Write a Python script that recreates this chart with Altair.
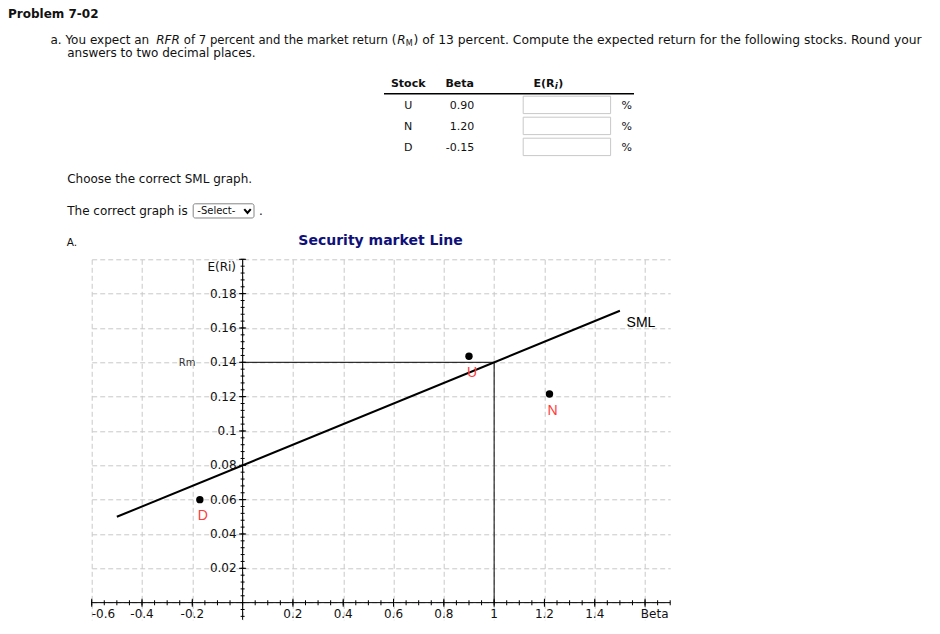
import altair as alt
import pandas as pd

# ------------------------------------------------------------------ data
problem_title = "Problem 7-02"
stocks = ["U", "N", "D"]
betas = [0.90, 1.20, -0.15]

# graph A
point_beta = [0.90, 1.22, -0.17]
point_ret = [0.1435, 0.1215, 0.060]
sml_beta = [-0.5, 1.5]
sml_ret = [0.05, 0.17]
rm_beta = 1.0
rm_ret = 0.14

grid_x = [-0.6, -0.4, -0.2, 0.0, 0.2, 0.4, 0.6, 0.8, 1.0, 1.2, 1.4, 1.6]
grid_y = [0.0, 0.02, 0.04, 0.06, 0.08, 0.10, 0.12, 0.14, 0.16, 0.18, 0.20]
x_label_vals = [-0.6, -0.4, -0.2, 0.2, 0.4, 0.6, 0.8, 1.0, 1.2, 1.4]
x_label_text = ["-0.6", "-0.4", "-0.2", "0.2", "0.4", "0.6", "0.8", "1", "1.2", "1.4"]
y_label_vals = [0.02, 0.04, 0.06, 0.08, 0.10, 0.12, 0.14, 0.16, 0.18]
y_label_text = ["0.02", "0.04", "0.06", "0.08", "0.1", "0.12", "0.14", "0.16", "0.18"]
x_major_ticks = [v for v in grid_x if v != 0.0]
y_major_ticks = [0.02, 0.04, 0.06, 0.08, 0.10, 0.12, 0.14, 0.16, 0.18, 0.20]
x_minor_ticks = [round(-0.6 + 0.05 * k, 2) for k in range(47)]
y_minor_ticks = [round(-0.008 + 0.004 * k, 3) for k in range(53)]

# ------------------------------------------------------------------ layout
OX, OY = 91.7, 259.3          # page position of the plot's top-left corner
W, H = 578.5, 360.5           # plot area
PAGE_W, PAGE_H = 924, 618
one = pd.DataFrame({"a": [0]})
TXT = "#111111"
layers = []


def txt(s, X, Y, size=12, bold=False, italic=False, align="left",
        color=TXT, font="DejaVu Sans", baseline="alphabetic"):
    return alt.Chart(one).mark_text(
        text=s, align=align, baseline=baseline, fontSize=size,
        fontWeight="bold" if bold else "normal",
        fontStyle="italic" if italic else "normal",
        color=color, font=font,
    ).encode(x=alt.value(X - OX), y=alt.value(Y - OY))


def box(X1, X2, Y1, Y2, stroke="#c8c8c8", radius=0, width=1):
    return alt.Chart(one).mark_rect(
        fill="white", stroke=stroke, strokeWidth=width, cornerRadius=radius
    ).encode(x=alt.value(X1 - OX), x2=alt.value(X2 - OX),
             y=alt.value(Y1 - OY), y2=alt.value(Y2 - OY))


# ---------------- page text
layers.append(txt(problem_title, 8, 17.6, bold=True))
L1 = 44.5
layers.append(txt("a. You expect an", 50.4, L1))
layers.append(txt("RFR", 156.2, L1, italic=True))
layers.append(txt("of 7 percent and the market return (", 183.8, L1, size=11.69))
layers.append(txt("R", 397.2, L1, italic=True))
layers.append(txt("M", 405.8, L1 + 2, size=8))
layers.append(txt(") of 13 percent. Compute the expected return for the following stocks. Round your",
                  413.6, L1, size=12.33))
layers.append(txt("answers to two decimal places.", 67.2, 57.5))

# ---------------- table
HB = 86.7
layers.append(txt("Stock", 408.2, HB, size=11, bold=True, align="center"))
layers.append(txt("Beta", 474.0, HB, size=11, bold=True, align="right"))
layers.append(txt("E(R", 533.5, HB, size=11, bold=True))
layers.append(txt("i", 554.8, HB + 2, size=9, bold=True, italic=True))
layers.append(txt(")", 558.3, HB, size=11, bold=True))
layers.append(alt.Chart(one).mark_rule(color="black", strokeWidth=1.5).encode(
    x=alt.value(384 - OX), x2=alt.value(634 - OX), y=alt.value(93.7 - OY)))
for i, (s, b) in enumerate(zip(stocks, betas)):
    base = 109.0 + 21.0 * i
    layers.append(txt(s, 408.2, base, size=11, align="center"))
    layers.append(txt(f"{b:.2f}", 474.3, base, size=11, align="right"))
    layers.append(box(523.2, 610.6, 96.2 + 21.0 * i, 113.6 + 21.0 * i))
    layers.append(txt("%", 621.6, base, size=11))

layers.append(txt("Choose the correct SML graph.", 67.2, 183.3))
layers.append(txt("The correct graph is", 67.2, 215.0))
layers.append(box(193.2, 254.0, 203.8, 218.0, stroke="#858585", radius=2))
layers.append(txt("-Select-", 197.3, 214.3, size=10))
layers.append(alt.Chart(one).mark_point(
    shape="M-1,-0.6L0,0.6L1,-0.6", filled=False, size=42, strokeWidth=2,
    color="black", opacity=1).encode(x=alt.value(247.5 - OX), y=alt.value(211.0 - OY)))
layers.append(txt(".", 259.0, 215.0))
layers.append(txt("A.", 66.8, 246.5, size=10.5))
layers.append(txt("Security market Line", 380.5, 245.0, size=14, bold=True,
                  align="center", color="#10107a"))

# ---------------- graph
xs = alt.Scale(domain=[-0.6, 1.7], nice=False, zero=False)
ys = alt.Scale(domain=[-0.01, 0.2], nice=False, zero=False)
gx = alt.Axis(values=grid_x, grid=True, gridDash=[5, 3], gridColor="#c8c8c8",
              domain=False, ticks=False, labels=False, title=None)
gy = alt.Axis(values=grid_y, grid=True, gridDash=[5, 3], gridColor="#c8c8c8",
              domain=False, ticks=False, labels=False, title=None)


def X(f):
    return alt.X(f, type="quantitative", scale=xs, axis=gx)


def Y(f):
    return alt.Y(f, type="quantitative", scale=ys, axis=gy)


df_sml = pd.DataFrame({"beta": sml_beta, "ret": sml_ret})
df_rm = pd.DataFrame({"b1": [0.0, rm_beta], "b2": [rm_beta, rm_beta],
                      "r1": [rm_ret, rm_ret], "r2": [rm_ret, 0.0]})
df_axes = pd.DataFrame({"b1": [-0.6, 0.0], "b2": [1.7, 0.0],
                        "r1": [0.0, -0.01], "r2": [0.0, 0.2]})
df_pts = pd.DataFrame({"stock": stocks, "beta": point_beta, "ret": point_ret})

# Rm guide lines
layers.append(alt.Chart(df_rm).mark_rule(color="black", strokeWidth=1).encode(
    x=X("b1"), x2="b2", y=Y("r1"), y2="r2"))
# axes lines
layers.append(alt.Chart(df_axes).mark_rule(color="black", strokeWidth=1).encode(
    x=X("b1"), x2="b2", y=Y("r1"), y2="r2"))
# ticks
layers.append(alt.Chart(pd.DataFrame({"v": x_minor_ticks, "z": 0.0})).mark_tick(
    orient="vertical", size=5, thickness=1, color="black", opacity=1).encode(x=X("v"), y=Y("z")))
layers.append(alt.Chart(pd.DataFrame({"v": x_major_ticks, "z": 0.0})).mark_tick(
    orient="vertical", size=8, thickness=1, color="black", opacity=1).encode(x=X("v"), y=Y("z")))
layers.append(alt.Chart(pd.DataFrame({"v": y_minor_ticks, "z": 0.0})).mark_tick(
    orient="horizontal", size=4, thickness=1, color="black", opacity=1).encode(y=Y("v"), x=X("z")))
layers.append(alt.Chart(pd.DataFrame({"v": y_major_ticks, "z": 0.0})).mark_tick(
    orient="horizontal", size=7, thickness=1, color="black", opacity=1).encode(y=Y("v"), x=X("z")))
# tick labels
df_xl = pd.DataFrame({"v": x_label_vals, "lab": x_label_text, "z": 0.0})
layers.append(alt.Chart(df_xl.iloc[:1]).mark_text(
    align="left", baseline="middle", dy=11, fontSize=12, font="DejaVu Sans", color=TXT
).encode(x=X("v"), y=Y("z"), text="lab"))
layers.append(alt.Chart(df_xl.iloc[1:]).mark_text(
    align="center", baseline="middle", dy=11, fontSize=12, font="DejaVu Sans", color=TXT
).encode(x=X("v"), y=Y("z"), text="lab"))
df_yl = pd.DataFrame({"v": y_label_vals, "lab": y_label_text, "z": 0.0})
layers.append(alt.Chart(df_yl).mark_text(
    align="right", baseline="middle", dx=-6, fontSize=12, font="DejaVu Sans", color=TXT
).encode(x=X("z"), y=Y("v"), text="lab"))
# axis titles
layers.append(txt("E(Ri)", 236.0, 266.7, align="right", baseline="middle"))
layers.append(txt("Beta", 668.5, 613.5, align="right", baseline="middle"))
layers.append(txt("Rm", 195.5, 362.5, size=10, align="right", baseline="middle", color="#333333"))

# SML
layers.append(alt.Chart(df_sml).mark_line(color="black", strokeWidth=2).encode(
    x=X("beta"), y=Y("ret")))
layers.append(alt.Chart(df_sml.iloc[1:]).mark_text(
    text="SML", align="left", baseline="alphabetic", dx=6.7, dy=16.5, fontSize=14,
    font="Liberation Sans", color="black").encode(x=X("beta"), y=Y("ret")))
# stocks
layers.append(alt.Chart(df_pts).mark_circle(size=55, color="black", opacity=1).encode(
    x=X("beta"), y=Y("ret")))
layers.append(alt.Chart(df_pts).mark_text(
    align="center", baseline="middle", dx=3, dy=16.5, fontSize=14,
    font="Liberation Sans", color="#ff3b3b").encode(x=X("beta"), y=Y("ret"), text="stock"))

chart = alt.layer(*layers).properties(
    width=W, height=H,
    autosize=alt.AutoSizeParams(type="none"),
    padding={"left": OX - 8, "top": OY - 8,
             "right": PAGE_W - (OX - 8) - W, "bottom": PAGE_H - (OY - 8) - H},
).configure_view(stroke=None)

chart.save("out.html", embed_options={"renderer": "svg", "actions": False})
